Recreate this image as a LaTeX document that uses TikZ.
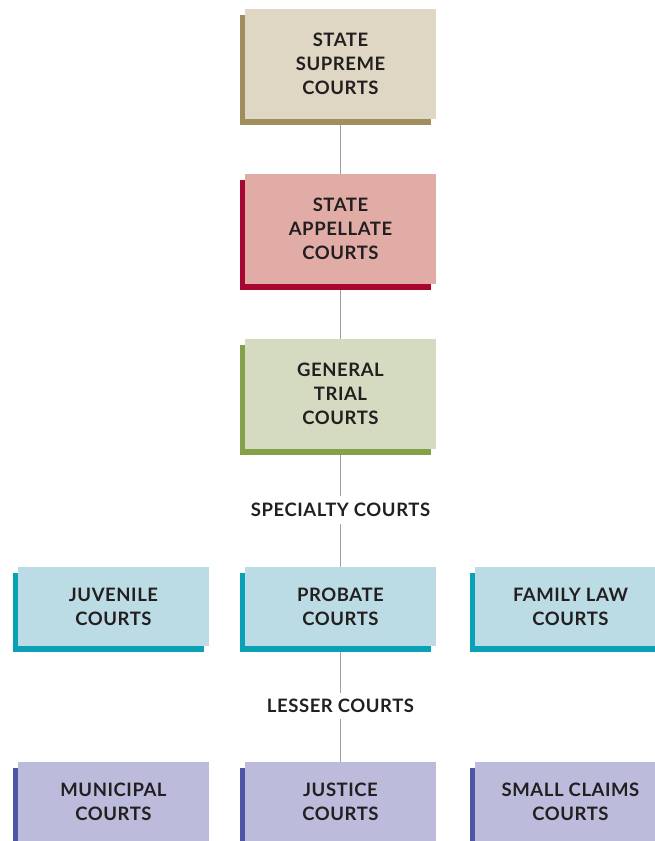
\documentclass[tikz,border=0pt]{standalone}
\usepackage{fontspec}
\setmainfont{Lato}[LetterSpace=3]
\usetikzlibrary{shadows,backgrounds}
\definecolor{txt}{HTML}{231F20}
\definecolor{supF}{HTML}{DFD6C3}\definecolor{supS}{HTML}{A08F5E}
\definecolor{appF}{HTML}{E2ACA6}\definecolor{appS}{HTML}{A6062F}
\definecolor{genF}{HTML}{D5DBC0}\definecolor{genS}{HTML}{84A14A}
\definecolor{speF}{HTML}{BBDCE4}\definecolor{speS}{HTML}{0AA0B5}
\definecolor{lesF}{HTML}{BCBBDC}\definecolor{lesS}{HTML}{4D55A5}
\definecolor{lineC}{HTML}{A0A0A0}
\begin{document}
\begin{tikzpicture}[x=1pt,y=-1pt,
  court/.style 2 args={fill=#1, minimum width=191pt, inner sep=0pt, align=center,
    font=\bfseries\fontsize{18.5}{24}\selectfont, text=txt,
    general shadow={shadow xshift=-5pt, shadow yshift=-6pt, fill=#2}},
  tall/.style={minimum height=110pt},
  short/.style={minimum height=79pt},
  lbl/.style={inner sep=0pt, font=\bfseries\fontsize{18.5}{24}\selectfont, text=txt},
  conn/.style={draw=lineC, line width=1.2pt}]
\useasboundingbox (0,0) rectangle (655,841);
\clip (0,0) rectangle (655,841);
\node[court={supF}{supS}, tall] (sup) at (340.5,64) {STATE\\SUPREME\\COURTS};
\node[court={appF}{appS}, tall] (app) at (340.5,229) {STATE\\APPELLATE\\COURTS};
\node[court={genF}{genS}, tall] (gen) at (340.5,394) {GENERAL\\TRIAL\\COURTS};
\node[lbl, minimum height=28pt] (spec) at (340.5,510) {SPECIALTY COURTS};
\node[court={speF}{speS}, short] (juv) at (113.5,606.5) {JUVENILE\\COURTS};
\node[court={speF}{speS}, short] (pro) at (340.5,606.5) {PROBATE\\COURTS};
\node[court={speF}{speS}, short] (fam) at (570.5,606.5) {FAMILY LAW\\COURTS};
\node[lbl, minimum height=26pt] (less) at (340.5,706) {LESSER COURTS};
\node[court={lesF}{lesS}, short] (mun) at (113.5,801.5) {MUNICIPAL\\COURTS};
\node[court={lesF}{lesS}, short] (jus) at (340.5,801.5) {JUSTICE\\COURTS};
\node[court={lesF}{lesS}, short] (sma) at (570.5,801.5) {SMALL CLAIMS\\COURTS};
\begin{pgfonlayer}{background}
\draw[conn] (sup.south) -- (app.north);
\draw[conn] (app.south) -- (gen.north);
\draw[conn] (gen.south) -- (spec.north);
\draw[conn] (spec.south) -- (pro.north);
\draw[conn] (pro.south) -- (less.north);
\draw[conn] (less.south) -- (jus.north);
\end{pgfonlayer}
\end{tikzpicture}
\end{document}
